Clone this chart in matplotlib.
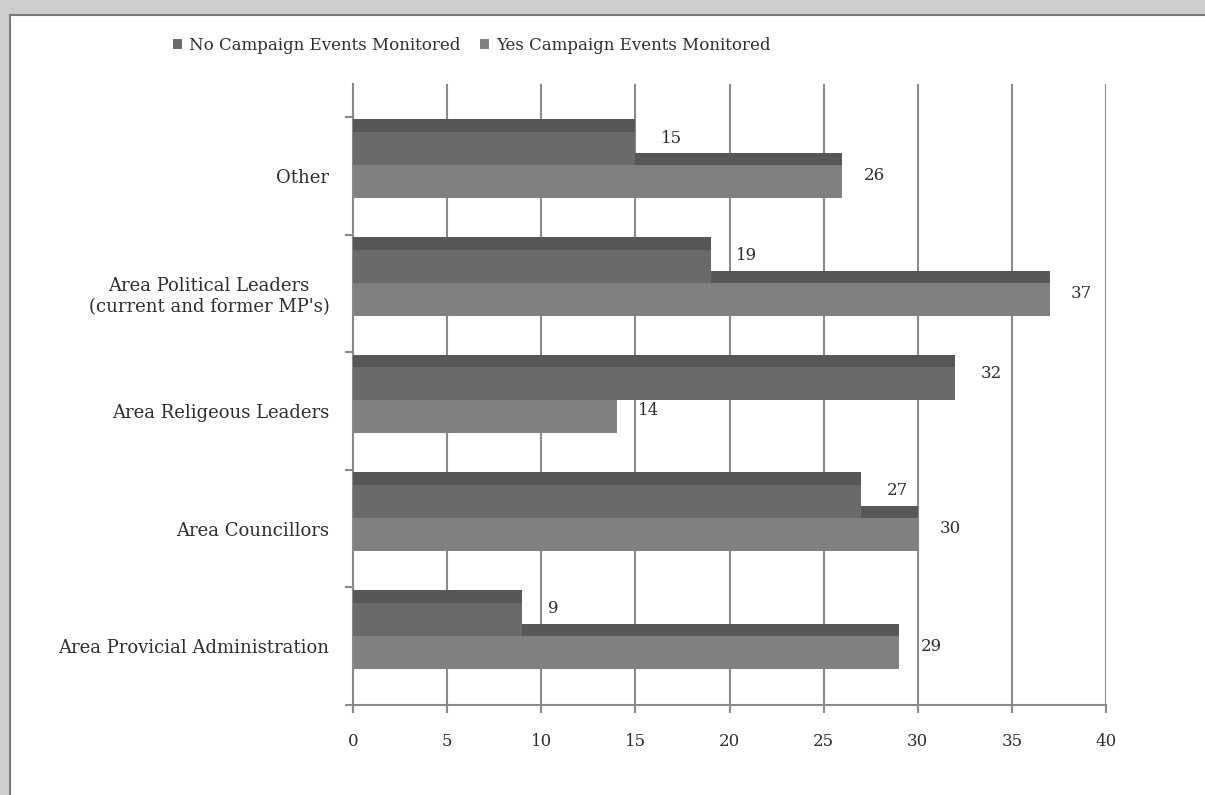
import matplotlib
matplotlib.use("Agg")
import matplotlib.pyplot as plt
from matplotlib.patches import Rectangle, Patch

categories = ["Area Provicial Administration", "Area Councillors",
              "Area Religeous Leaders",
              "Area Political Leaders\n(current and former MP's)", "Other"]
no_events = [9, 27, 32, 19, 15]
yes_events = [29, 30, 14, 37, 26]
series_names = ["No Campaign Events Monitored", "Yes Campaign Events Monitored"]
x_ticks = [0, 5, 10, 15, 20, 25, 30, 35, 40]

c_top = "#575757"
c_no = "#6a6a6a"
c_yes = "#808080"
c_grid = "#8a8a8a"
c_text = "#2e2e2e"
font = "DejaVu Serif"

fig = plt.figure(figsize=(12.05, 7.95), dpi=100)
fig.patch.set_facecolor("#cdcdcd")

# white panel with grey frame
bg = fig.add_axes([0, 0, 1, 1], zorder=0)
bg.set_axis_off()
bg.add_patch(Rectangle((10 / 1205, -0.05), 1.1, 1 - 15 / 795 + 0.05, transform=bg.transAxes,
                       facecolor="white", edgecolor="#7a7a7a", linewidth=1.5, clip_on=False))

ax = fig.add_axes([353 / 1205, 1 - 705 / 795, (1106 - 353) / 1205, (705 - 84) / 795], zorder=2)
ax.set_facecolor("none")

ys = list(range(len(categories)))

# yes bars (lower, drawn first), then no bars on top -> fake 3d look
ax.barh([y + 0.14 for y in ys], yes_events, height=0.10, color=c_top, zorder=2)
ax.barh([y - 0.05 for y in ys], yes_events, height=0.28, color=c_yes, zorder=2)
ax.barh([y + 0.425 for y in ys], no_events, height=0.11, color=c_top, zorder=3)
ax.barh([y + 0.23 for y in ys], no_events, height=0.28, color=c_no, zorder=3)

for y, v in zip(ys, no_events):
    ax.text(v + 1.35, y + 0.32, str(v), ha="left", va="center", fontsize=12,
            family=font, color=c_text)
for y, v in zip(ys, yes_events):
    ax.text(v + 1.15, y + 0.0, str(v), ha="left", va="center", fontsize=12,
            family=font, color=c_text)

ax.set_xlim(0, 40)
ax.set_ylim(-0.5, 4.78)
ax.set_xticks(x_ticks)
ax.set_xticklabels([str(t) for t in x_ticks], family=font, fontsize=12, color=c_text)
ax.set_yticks(ys)
ax.set_yticklabels(categories, family=font, fontsize=13, color=c_text, multialignment="center")
ax.set_yticks([y - 0.5 for y in range(len(categories) + 1)], minor=True)
ax.tick_params(axis="y", which="major", length=0, pad=17)
ax.tick_params(axis="y", which="minor", length=6, color=c_grid, width=1.5)
ax.tick_params(axis="x", length=6, color=c_grid, width=1.5, pad=14)

ax.grid(axis="x", color=c_grid, linewidth=1.5, zorder=1)
ax.set_axisbelow(True)
for side in ["top", "right"]:
    ax.spines[side].set_visible(False)
for side in ["left", "bottom"]:
    ax.spines[side].set_color(c_grid)
    ax.spines[side].set_linewidth(1.5)

handles = [Patch(facecolor=c_no), Patch(facecolor=c_yes)]
fig.legend(handles, series_names, ncol=2, loc="center left",
           bbox_to_anchor=(158 / 1205, 1 - 45 / 795), frameon=False,
           handlelength=0.55, handleheight=0.55, handletextpad=0.4, columnspacing=1.2,
           prop={"family": font, "size": 12}, labelcolor=c_text)

fig.savefig("out.png", dpi=100, facecolor=fig.get_facecolor())
